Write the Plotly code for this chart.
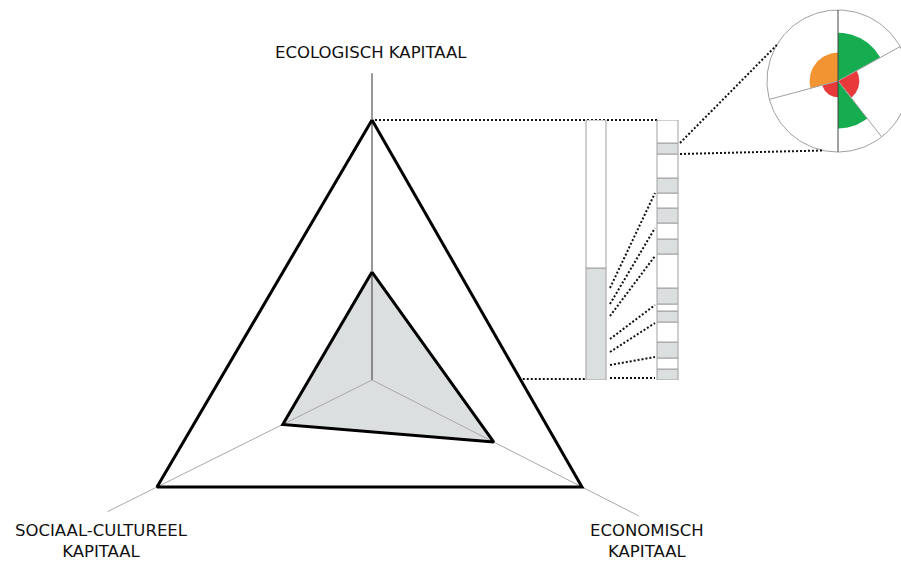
import numpy as np
import plotly.graph_objects as go

# radar: one value per axis, 1.0 = outer triangle
axis_names = ["ECOLOGISCH KAPITAAL", "ECONOMISCH<br>KAPITAAL", "SOCIAAL-CULTUREEL<br>KAPITAAL"]
outer_vals = [1.0, 1.0, 1.0]
inner_vals = [0.415, 0.58, 0.415]
spoke_vals = [1.18, 1.27, 1.23]

# summary bar (scored part, rest), bar units: 260 = full bar
summary_bar = [112, 148]
# detail bar segments, bottom to top; 1 = scored (grey)
detail_seg = [11, 11, 16, 20, 11, 7, 16, 34, 15, 16, 15, 15, 15, 24, 11, 23]
detail_fill = [1, 0, 1, 0, 1, 0, 1, 0, 1, 0, 1, 0, 1, 0, 1, 0]
# dotted links summary bar -> detail bar (heights in bar units)
link_from = [2, 15, 28, 41, 64, 76, 92]
link_to = [2, 23, 57, 75, 124, 152, 187]

# circle sectors (degrees counterclockwise from east), radius as share of circle
sec_start = [29, 90, 195, 270, 308]
sec_end = [90, 195, 270, 308, 389]
sec_r = [0.68, 0.40, 0.23, 0.67, 0.30]
sec_col = ["#16ad51", "#f39433", "#e83a3b", "#16ad51", "#e83a3b"]
divider_deg = [29, 195, 308]

W, H = 901, 562
CENTER = (372, 380)
AXIS_TIP = [(372, 120), (582, 487), (157, 487)]
BAR_BOTTOM, BAR_TOP = 380, 120
CIRC = (838, 81, 71)

GREY = "#dcdfe0"
EDGE = "#a0a0a0"
DOT = dict(color="#111", width=2, dash="2px,2px")

fig = go.Figure()


def pt(i, v):
    cx, cy = CENTER
    tx, ty = AXIS_TIP[i]
    return cx + v * (tx - cx), cy + v * (ty - cy)


def closed(vals):
    p = [pt(i, v) for i, v in enumerate(vals)]
    p.append(p[0])
    return [a for a, b in p], [b for a, b in p]


def line(x, y, **kw):
    fig.add_trace(go.Scatter(x=x, y=y, mode="lines", hoverinfo="skip", **kw))


# inner area
ix, iy = closed(inner_vals)
line(ix, iy, fill="toself", fillcolor=GREY, line=dict(width=0))

# spokes
for i, v in enumerate(spoke_vals):
    x1, y1 = pt(i, v)
    line([CENTER[0], x1], [CENTER[1], y1],
         line=dict(color="#333" if i == 0 else "#a8a8a8", width=1))

# triangles
ox, oy = closed(outer_vals)
line(ox, oy, line=dict(color="#000", width=3))
line(ix, iy, line=dict(color="#000", width=3))

# dotted guides from triangle to bars
line([ox[0] + 3, 657], [oy[0], oy[0]], line=DOT)
# right edge of outer triangle at bar bottom height
t = (BAR_BOTTOM - oy[0]) / (oy[1] - oy[0])
line([ox[0] + t * (ox[1] - ox[0]) + 2, 586], [BAR_BOTTOM - 1, BAR_BOTTOM - 1], line=DOT)

# circle
ccx, ccy, R = CIRC
for a0, a1, r, c in zip(sec_start, sec_end, sec_r, sec_col):
    a = np.radians(np.linspace(a0, a1, 60))
    xs = np.concatenate([[ccx], ccx + R * r * np.cos(a), [ccx]])
    ys = np.concatenate([[ccy], ccy - R * r * np.sin(a), [ccy]])
    line(xs, ys, fill="toself", fillcolor=c, line=dict(width=0))
full = np.radians(np.linspace(0, 360, 200))
line(ccx + R * np.cos(full), ccy - R * np.sin(full), line=dict(color=EDGE, width=1))
for d in divider_deg:
    a = np.radians(d)
    line([ccx, ccx + R * np.cos(a)], [ccy, ccy - R * np.sin(a)], line=dict(color=EDGE, width=1))
line([ccx, ccx], [ccy - R, ccy + R], line=dict(color="#444", width=1))

# dotted lines from top scored segment to circle
top_i = max(i for i, f in enumerate(detail_fill) if f)
seg_base = np.concatenate([[0], np.cumsum(detail_seg)[:-1]])
y_hi = BAR_BOTTOM - (seg_base[top_i] + detail_seg[top_i])
y_lo = BAR_BOTTOM - seg_base[top_i]
a1, a2 = np.radians(149.5), np.radians(258)
line([680, ccx + R * np.cos(a1)], [y_hi, ccy - R * np.sin(a1)], line=DOT)
line([680, ccx + R * np.cos(a2)], [y_lo, ccy - R * np.sin(a2)], line=DOT)

# bars on their own axes
fig.add_trace(go.Bar(
    x=[596, 596], y=summary_bar, base=[0, summary_bar[0]], width=20,
    marker=dict(color=[GREY, "#fff"], line=dict(color=EDGE, width=1)),
    xaxis="x2", yaxis="y2", hoverinfo="skip"))
fig.add_trace(go.Bar(
    x=[667.5] * len(detail_seg), y=detail_seg, base=seg_base, width=21,
    marker=dict(color=[GREY if f else "#fff" for f in detail_fill],
                line=dict(color=EDGE, width=1)),
    xaxis="x2", yaxis="y2", hoverinfo="skip"))
for a, b in zip(link_from, link_to):
    fig.add_trace(go.Scatter(x=[610, 655], y=[a, b], mode="lines", line=DOT,
                             xaxis="x2", yaxis="y2", hoverinfo="skip"))

# axis labels
font = dict(family="DejaVu Sans", size=16.5, color="#111")
label_pos = [(371, 52, "middle"), (647, 562, "bottom"), (101, 562, "bottom")]
for name, (x, y, ya) in zip(axis_names, label_pos):
    fig.add_annotation(x=x, y=y, text=name, showarrow=False, font=font,
                       xanchor="center", yanchor=ya, borderpad=0)

hidden = dict(visible=False, showgrid=False, zeroline=False)
fig.update_layout(
    width=W, height=H, margin=dict(l=0, r=0, t=0, b=0),
    paper_bgcolor="#fff", plot_bgcolor="rgba(0,0,0,0)",
    showlegend=False, barmode="overlay",
    xaxis=dict(range=[0, W], domain=[0, 1], **hidden),
    yaxis=dict(range=[H, 0], domain=[0, 1], **hidden),
    xaxis2=dict(range=[0, W], domain=[0, 1], anchor="y2", **hidden),
    yaxis2=dict(range=[0, BAR_BOTTOM - BAR_TOP],
                domain=[(H - BAR_BOTTOM) / H, (H - BAR_TOP) / H], anchor="x2", **hidden),
)

fig.write_html("out.html", config={"displayModeBar": False},
               post_script="document.body.style.margin='0';")
